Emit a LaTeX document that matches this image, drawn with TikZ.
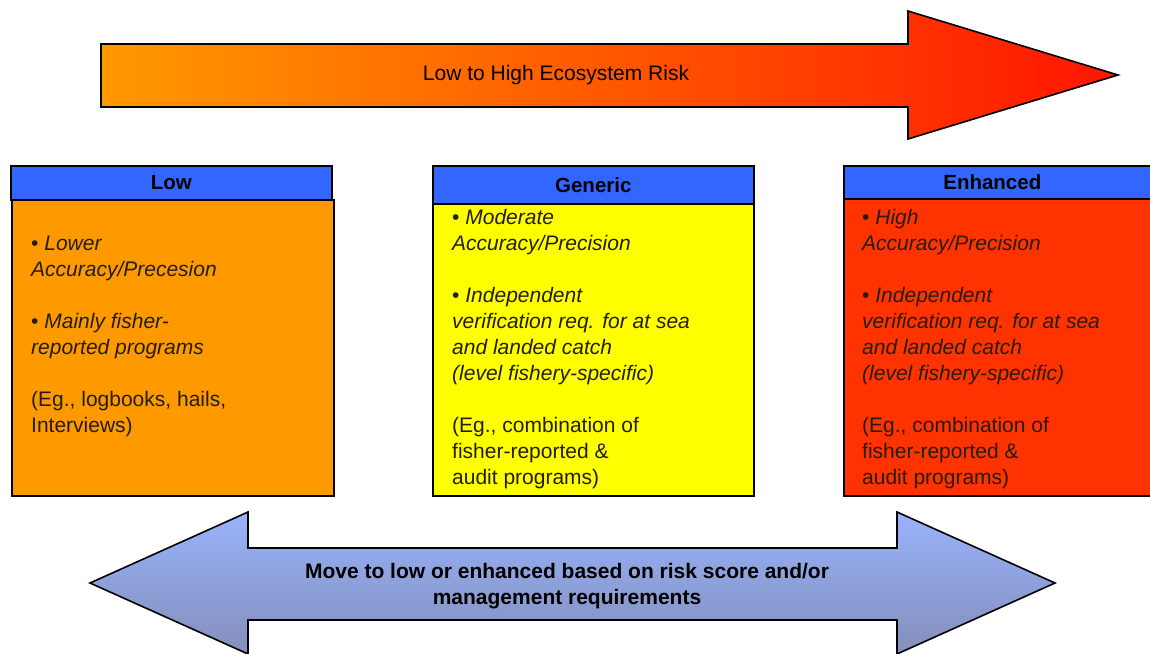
\documentclass[tikz,border=0pt]{standalone}
\usepackage{fontspec}
\setmainfont{Liberation Sans}
\definecolor{arrL}{RGB}{255,153,0}
\definecolor{arrR}{RGB}{255,22,0}
\definecolor{hdrblue}{RGB}{51,102,255}
\definecolor{lowfill}{RGB}{255,153,0}
\definecolor{genfill}{RGB}{255,255,0}
\definecolor{enhfill}{RGB}{255,51,0}
\definecolor{bluetop}{RGB}{152,178,252}
\definecolor{bluebot}{RGB}{132,143,186}
\definecolor{txt}{RGB}{35,30,20}
\tikzset{
  outl/.style={draw=black, line width=1.6pt, line join=miter},
  hdr/.style={outl, fill=hdrblue, anchor=north west, inner sep=0pt,
    font=\fontsize{20.5}{22}\selectfont\bfseries, text=black},
  bodybox/.style={outl, anchor=north west, inner sep=0pt},
  bodytxt/.style={anchor=north west, align=left, inner sep=0pt, text=txt,
    font=\fontsize{21}{26}\selectfont},
}
\newcommand{\topstrut}{\rule{0pt}{15pt}}
\begin{document}
\begin{tikzpicture}[x=1pt,y=-1pt]
\useasboundingbox (0,0) rectangle (1150,653);
\clip (0,0) rectangle (1150,653);
% top arrow
\draw[outl, left color=arrL, right color=arrR]
  (101,44) -- (908,44) -- (908,11) -- (1118,75) -- (908,139) -- (908,107) -- (101,107) -- cycle;
\node[font=\fontsize{21}{22}\selectfont, text=black] (risk) at (556,75) {Low to High Ecosystem Risk};
% Low
\node[hdr, minimum width=321pt, minimum height=34pt] (lowh) at (10,165) {Low};
\node[bodybox, fill=lowfill, minimum width=322pt, minimum height=296pt] (lowb) at (11,199) {};
\node[bodytxt] (lowt) at (31,235) {\topstrut\textup{•} \textit{Lower}\\
\textit{Accuracy/Precesion}\\[26pt]
\textup{•} \textit{Mainly fisher-}\\
\textit{reported programs}\\[26pt]
(Eg., logbooks, hails,\\
Interviews)};
% Generic
\node[hdr, minimum width=321pt, minimum height=38pt] (genh) at (432,165) {Generic};
\node[bodybox, fill=genfill, minimum width=321pt, minimum height=292pt] (genb) at (432,203) {};
\node[bodytxt] (gent) at (452,209) {\topstrut\textup{•} \textit{Moderate}\\
\textit{Accuracy/Precision}\\[26pt]
\textup{•} \textit{Independent}\\
\textit{verification req. for at sea}\\
\textit{and landed catch}\\
\textit{(level fishery-specific)}\\[26pt]
(Eg., combination of\\
fisher-reported \&\\
audit programs)};
% Enhanced
\node[hdr, minimum width=310pt, minimum height=33pt] (enhh) at (843,165) {\hspace*{-13pt}Enhanced};
\node[bodybox, fill=enhfill, minimum width=310pt, minimum height=297pt] (enhb) at (843,198) {};
\node[bodytxt] (enht) at (862,209) {\topstrut\textup{•} \textit{High}\\
\textit{Accuracy/Precision}\\[26pt]
\textup{•} \textit{Independent}\\
\textit{verification req. for at sea}\\
\textit{and landed catch}\\
\textit{(level fishery-specific)}\\[26pt]
(Eg., combination of\\
fisher-reported \&\\
audit programs)};
% bottom double arrow
\draw[outl, top color=bluetop, bottom color=bluebot]
  (90,583) -- (248,512) -- (248,548) -- (897,548) -- (897,512) -- (1055,583)
  -- (897,654) -- (897,620) -- (248,620) -- (248,654) -- cycle;
\node[align=center, font=\fontsize{21}{26}\selectfont\bfseries, text=black] (move) at (567,586)
  {Move to low or enhanced based on risk score and/or\\management requirements};
\end{tikzpicture}
\end{document}
